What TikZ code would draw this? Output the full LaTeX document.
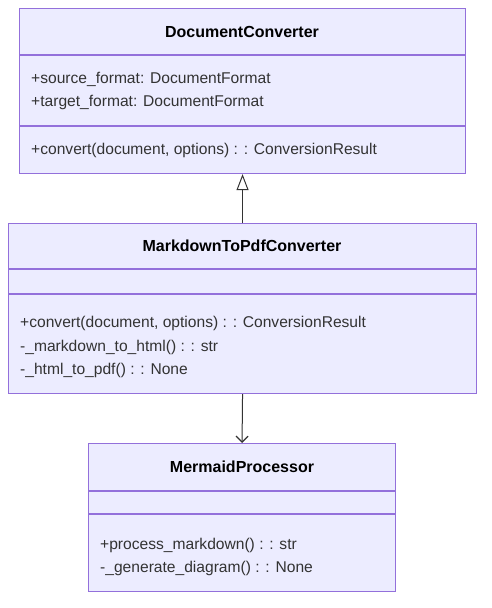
\documentclass[tikz,border=0pt]{standalone}
\usepackage{fontspec}
\setmainfont{Liberation Sans}
\usetikzlibrary{arrows.meta}
\definecolor{boxfill}{HTML}{ECECFF}
\definecolor{boxline}{HTML}{9370DB}
\definecolor{edge}{HTML}{333333}
\definecolor{txt}{HTML}{333333}
\begin{document}
\begin{tikzpicture}[x=1pt,y=-1pt,
  box/.style={draw=boxline,fill=boxfill,line width=1.1pt,anchor=north west,inner sep=0pt},
  divider/.style={draw=boxline,line width=1.1pt},
  title/.style={font=\fontsize{16}{19}\selectfont\bfseries,text=black,inner sep=0pt},
  member/.style={font=\fontsize{15.6}{18}\selectfont,text=txt,anchor=west,inner sep=0pt},
  edgeline/.style={draw=edge,line width=1pt}]
\useasboundingbox (0,0) rectangle (492,608);
% DocumentConverter
\node[box,minimum width=446pt,minimum height=165pt] (dc) at (19,8) {};
\draw[divider] (19,55) -- (465,55);
\draw[divider] (19,126) -- (465,126);
\node[title] (dct) at (242,32) {DocumentConverter};
\node[member] (dca1) at (31,79.5) {+source\_format: DocumentFormat};
\node[member] (dca2) at (31,102.5) {+target\_format: DocumentFormat};
\node[member] (dcm1) at (31,150.5) {+convert(document, options) : : ConversionResult};
% MarkdownToPdfConverter
\node[box,minimum width=468pt,minimum height=170pt] (md) at (8,223) {};
\draw[divider] (8,269) -- (476,269);
\draw[divider] (8,294) -- (476,294);
\node[title] (mdt) at (242,246) {MarkdownToPdfConverter};
\node[member] (mdm1) at (20,323.5) {+convert(document, options) : : ConversionResult};
\node[member] (mdm2) at (20,347.5) {-\_markdown\_to\_html() : : str};
\node[member] (mdm3) at (20,370.5) {-\_html\_to\_pdf() : : None};
% MermaidProcessor
\node[box,minimum width=307pt,minimum height=148pt] (mp) at (88,443) {};
\draw[divider] (88,491) -- (395,491);
\draw[divider] (88,514) -- (395,514);
\node[title] (mpt) at (242,467) {MermaidProcessor};
\node[member] (mpm1) at (100,545.5) {+process\_markdown() : : str};
\node[member] (mpm2) at (100,568.5) {-\_generate\_diagram() : : None};
% edges
\draw[edgeline,-{Triangle[fill=white,length=16pt,width=12pt,line width=1pt]}] (md.north) -- (dc.south);
\draw[edgeline,-{Straight Barb[length=6pt,width=12pt,line width=1.2pt]}] (md.south) -- (mp.north);
\end{tikzpicture}
\end{document}
